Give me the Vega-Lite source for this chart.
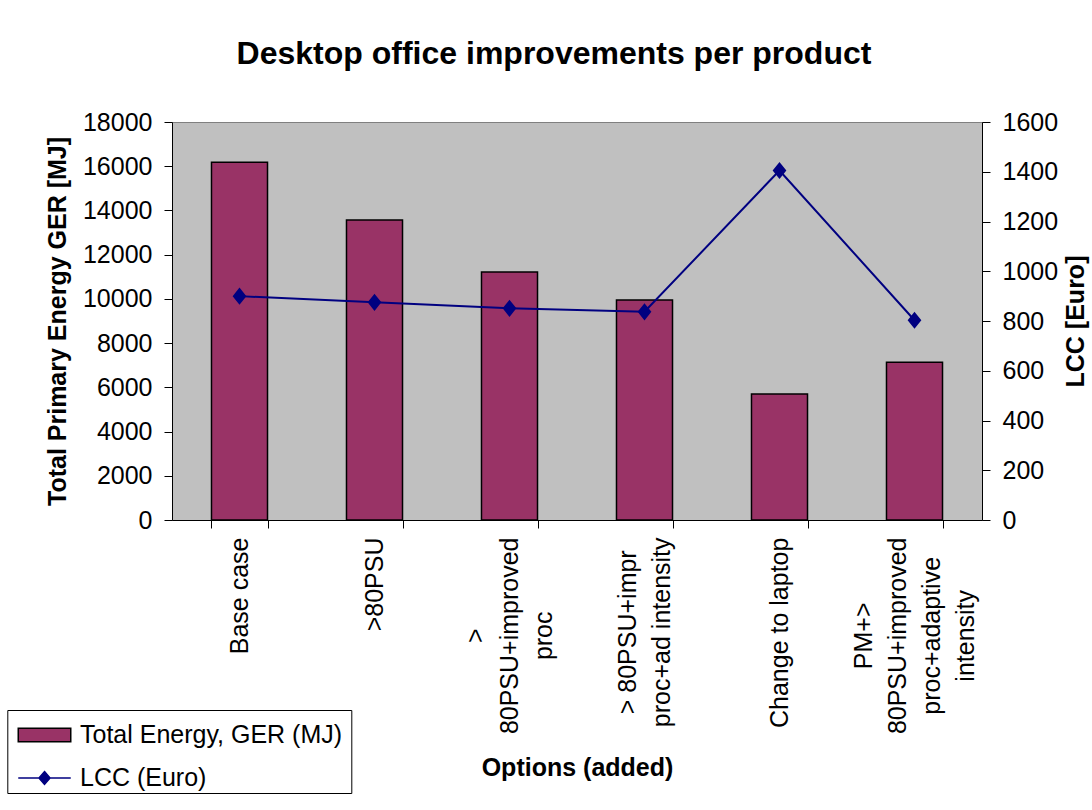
{
  "$schema": "https://vega.github.io/schema/vega-lite/v6.json",
  "width": 810,
  "height": 398,
  "autosize": {"type": "none"},
  "padding": {"left": 172, "top": 122, "right": 110, "bottom": 290},
  "background": "white",
  "title": {
    "text": "Desktop office improvements per product",
    "font": "Liberation Sans",
    "fontSize": 32,
    "fontWeight": "bold",
    "color": "black",
    "anchor": "middle",
    "frame": "group",
    "dx": -23,
    "offset": 14,
    "baseline": "alphabetic"
  },
  "config": {
    "view": {"fill": "#C0C0C0", "stroke": "#808080", "strokeWidth": 1},
    "font": "Liberation Sans",
    "axis": {
      "grid": false,
      "domainColor": "black",
      "domainWidth": 1,
      "tickColor": "black",
      "tickWidth": 1,
      "tickSize": 8,
      "labelColor": "black",
      "labelFont": "Liberation Sans",
      "labelFontSize": 25,
      "titleColor": "black",
      "titleFont": "Liberation Sans",
      "titleFontSize": 25,
      "titleFontWeight": "bold",
      "labelLimit": 0,
      "titleLimit": 0
    },
    "legend": {
      "labelFont": "Liberation Sans",
      "labelFontSize": 25,
      "labelColor": "black",
      "labelLimit": 0,
      "symbolSize": 900,
      "symbolOffset": 12.2,
      "labelOffset": 19.5,
      "symbolStrokeWidth": 1.5,
      "symbolOpacity": 1
    }
  },
  "data": {
    "values": [
      {"option": "Base case", "energy": 16175, "lcc": 900},
      {"option": ">80PSU", "energy": 13570, "lcc": 875},
      {"option": ">|80PSU+improved|proc", "energy": 11220, "lcc": 851},
      {"option": "> 80PSU+impr|proc+ad intensity", "energy": 9955, "lcc": 837},
      {"option": "Change to laptop", "energy": 5700, "lcc": 1405},
      {"option": "PM+>|80PSU+improved|proc+adaptive|intensity", "energy": 7140, "lcc": 803}
    ]
  },
  "encoding": {
    "x": {
      "field": "option",
      "type": "nominal",
      "sort": null,
      "scale": {"paddingInner": 0.585, "paddingOuter": 0.2925},
      "axis": {
        "title": "Options (added)",
        "labelAngle": -90,
        "labelAlign": "center",
        "labelBaseline": "middle",
        "labelExpr": "split(datum.label, '|')",
        "labelLineHeight": 34,
        "labelPadding": {
          "condition": [
            {"test": "datum.value === 'Base case'", "value": 67.4},
            {"test": "datum.value === '>80PSU'", "value": 55.9},
            {"test": "datum.value === '>|80PSU+improved|proc'", "value": 107.3},
            {"test": "datum.value === '> 80PSU+impr|proc+ad intensity'", "value": 103.8},
            {"test": "datum.value === 'Change to laptop'", "value": 104.3}
          ],
          "value": 107.3
        },
        "labelOffset": {
          "condition": [
            {"test": "datum.value === '>|80PSU+improved|proc'", "value": -34},
            {"test": "datum.value === '> 80PSU+impr|proc+ad intensity'", "value": -17},
            {"test": "datum.value === 'PM+>|80PSU+improved|proc+adaptive|intensity'", "value": -51}
          ],
          "value": 0
        },
        "tickBand": "extent",
        "titlePadding": 35
      }
    }
  },
  "layer": [
    {
      "mark": {"type": "bar", "stroke": "black", "strokeWidth": 1.5},
      "encoding": {
        "y": {
          "field": "energy",
          "type": "quantitative",
          "scale": {"domain": [0, 18000], "nice": false},
          "axis": {
            "title": "Total Primary Energy GER [MJ]",
            "values": [0, 2000, 4000, 6000, 8000, 10000, 12000, 14000, 16000, 18000],
            "format": "d",
            "labelPadding": 12,
            "titlePadding": 12
          }
        },
        "fill": {
          "datum": "Total Energy, GER (MJ)",
          "type": "nominal",
          "scale": {"range": ["#993366"]},
          "legend": {
            "title": " ",
            "titleOrient": "bottom",
            "titleFontSize": 30,
            "titlePadding": 6,
            "orient": "none",
            "legendX": -164.7,
            "legendY": 588,
            "strokeColor": "black",
            "fillColor": "white",
            "padding": 9,
            "symbolType": "M-1.75,-0.45L1.75,-0.45L1.75,0.45L-1.75,0.45Z",
            "symbolStrokeColor": "black"
          }
        }
      }
    },
    {
      "mark": {
        "type": "line",
        "strokeWidth": 2,
        "point": {"shape": "M0,-1L0.8,0L0,1L-0.8,0Z", "size": 196, "filled": true, "fill": "#000080", "opacity": 1}
      },
      "encoding": {
        "y": {
          "field": "lcc",
          "type": "quantitative",
          "scale": {"domain": [0, 1600], "nice": false},
          "axis": {
            "orient": "right",
            "title": "LCC [Euro]",
            "values": [0, 200, 400, 600, 800, 1000, 1200, 1400, 1600],
            "format": "d",
            "labelPadding": 12,
            "titleAngle": -90,
            "titleBaseline": "top",
            "titlePadding": 6
          }
        },
        "stroke": {
          "datum": "LCC (Euro)",
          "type": "nominal",
          "scale": {"range": ["#000080"]},
          "legend": {
            "title": null,
            "orient": "none",
            "legendX": -155.7,
            "legendY": 640,
            "padding": 0,
            "symbolType": "M-1.75,0L1.75,0M0,-0.43L0.37,0L0,0.43L-0.37,0Z",
            "symbolFillColor": "#000080"
          }
        }
      }
    }
  ],
  "resolve": {"scale": {"y": "independent"}}
}
